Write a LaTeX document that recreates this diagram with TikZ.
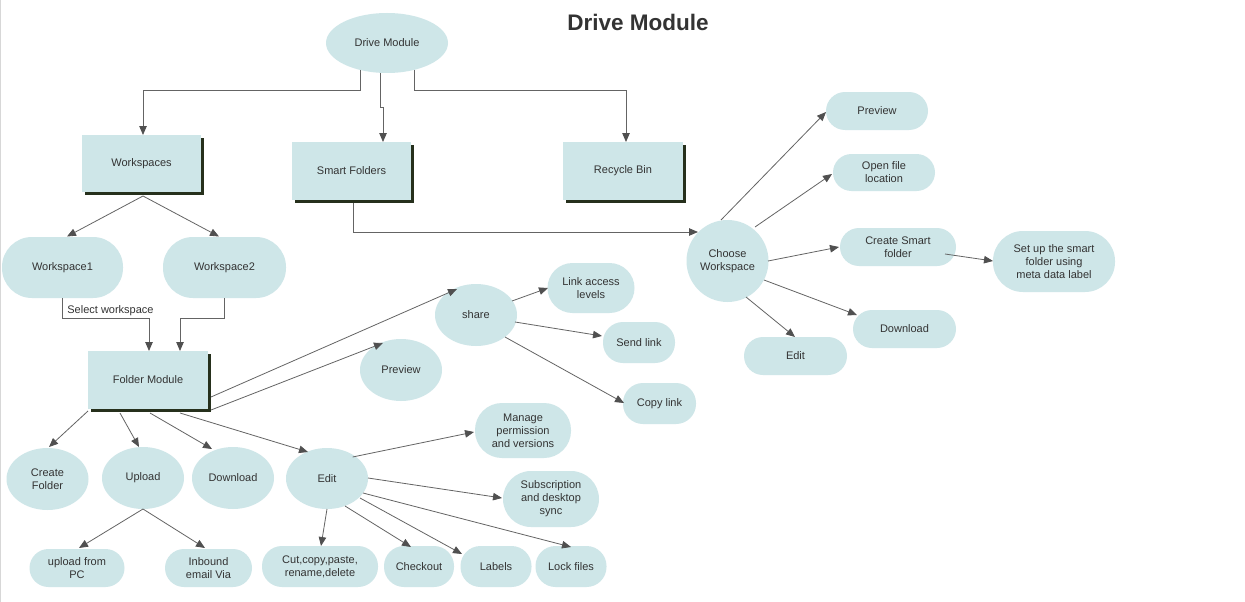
\documentclass[tikz,border=0pt]{standalone}
\usepackage{fontspec}
\setmainfont{Liberation Sans}
\usetikzlibrary{shapes.geometric,arrows.meta,shadows}
\definecolor{boxfill}{RGB}{206,230,232}
\definecolor{shadowcol}{RGB}{38,48,28}
\definecolor{txt}{RGB}{51,51,51}
\definecolor{linecol}{RGB}{100,100,100}
\definecolor{tipcol}{RGB}{80,80,80}
\definecolor{edgecol}{RGB}{215,215,215}
\begin{document}
\begin{tikzpicture}[x=1pt,y=-1pt,
  base/.style={fill=boxfill, text=txt, font=\fontsize{11}{13}\selectfont, align=center, inner sep=0pt, outer sep=0pt},
  ell/.style={base, ellipse},
  pill/.style={base, rectangle, rounded corners=#1},
  pill/.default=19pt,
  sbox/.style={base, rectangle, drop shadow={shadow xshift=3pt, shadow yshift=-3pt, fill=shadowcol, opacity=1}},
  arr/.style={draw=linecol, line width=0.8pt, -{Triangle[length=9pt,width=7.5pt,color=tipcol,fill=tipcol]}},
  lbl/.style={text=txt, font=\fontsize{11}{13}\selectfont, inner sep=0pt}
]
\useasboundingbox (0,0) rectangle (1245,602);
\fill[white] (0,0) rectangle (1245,602);
\draw[edgecol, line width=1pt] (0.5,0) -- (0.5,602);

% title
\node[text=txt, font=\fontsize{22.5}{26}\selectfont\bfseries] (title) at (638,22) {Drive Module};

% top level
\node[ell, minimum width=122pt, minimum height=60pt] (dm) at (387,43) {Drive Module};
\node[sbox, minimum width=119pt, minimum height=57pt] (ws) at (141.5,163.5) {Workspaces};
\node[sbox, minimum width=119pt, minimum height=58pt] (sf) at (351.5,171) {Smart Folders};
\node[sbox, minimum width=120pt, minimum height=58pt] (rb) at (623,171) {Recycle Bin};

% workspaces
\node[pill=30pt, minimum width=121pt, minimum height=61pt] (w1) at (62.5,267.5) {Workspace1};
\node[pill=30pt, minimum width=123pt, minimum height=61pt] (w2) at (224.5,267.5) {Workspace2};
\node[sbox, minimum width=120pt, minimum height=58pt] (fm) at (148,380) {Folder Module};
\node[lbl] (sel) at (110.5,311) {Select workspace};

% share / preview
\node[ell, minimum width=82pt, minimum height=62pt] (prev1) at (401,370) {Preview};
\node[ell, minimum width=82pt, minimum height=62pt] (share) at (476,315) {share};
\node[pill=25pt, minimum width=87pt, minimum height=50pt] (lal) at (591,288) {Link access\\levels};
\node[pill=20pt, minimum width=72pt, minimum height=41pt] (sl) at (639,342.5) {Send link};
\node[pill=20pt, minimum width=73pt, minimum height=41pt] (cl) at (659.5,403.5) {Copy link};

% choose workspace
\node[ell, minimum width=82pt, minimum height=82pt] (cw) at (727.5,261) {Choose\\Workspace};
\node[pill, minimum width=102pt, minimum height=38pt] (prev2) at (877,111) {Preview};
\node[pill=18.5pt, minimum width=102pt, minimum height=37pt] (ofl) at (884,172.5) {Open file\\location};
\node[pill, minimum width=116pt, minimum height=38pt] (csf) at (898,247) {Create Smart\\folder};
\node[pill=30pt, minimum width=122pt, minimum height=61pt] (setup) at (1054,261.5) {Set up the smart\\folder using\\meta data label};
\node[pill, minimum width=103pt, minimum height=38pt] (dl2) at (904.5,329) {Download};
\node[pill, minimum width=103pt, minimum height=38pt] (ed2) at (795.5,356) {Edit};

% folder module children
\node[ell, minimum width=82pt, minimum height=62pt] (cf) at (47.5,479) {Create\\Folder};
\node[ell, minimum width=82pt, minimum height=62pt] (up) at (143,478) {Upload};
\node[ell, minimum width=82pt, minimum height=62pt] (dl1) at (233,478) {Download};
\node[ell, minimum width=82pt, minimum height=61pt] (ed1) at (327,478.5) {Edit};
\node[pill, minimum width=95pt, minimum height=38pt] (pc) at (77,568) {upload from\\PC};
\node[pill, minimum width=87pt, minimum height=38pt] (ib) at (208.5,568) {Inbound\\email Via};
\node[pill=27pt, minimum width=96pt, minimum height=55pt] (mpv) at (523,430.5) {Manage\\permission\\and versions};
\node[pill=28pt, minimum width=96pt, minimum height=56pt] (sds) at (551,499) {Subscription\\and desktop\\sync};
\node[pill=20pt, minimum width=116pt, minimum height=41pt] (cut) at (320,566.5) {Cut,copy,paste,\\rename,delete};
\node[pill=20pt, minimum width=70pt, minimum height=41pt] (co) at (419,566.5) {Checkout};
\node[pill=20pt, minimum width=71pt, minimum height=41pt] (lab) at (496,566.5) {Labels};
\node[pill=20pt, minimum width=71pt, minimum height=41pt] (lf) at (571,566.5) {Lock files};

% ---- connectors ----
\draw[arr] ([shift={(-27,27)}]dm.center) -- ([shift={(-27,47)}]dm.center) -| ([shift={(1.5,0)}]ws.north);
\draw[arr] ([shift={(-7,30)}]dm.center) -- ([shift={(-7,64)}]dm.center) -- ([shift={(-4,64)}]dm.center) -- ([shift={(31.5,0)}]sf.north);
\draw[arr] ([shift={(27,27)}]dm.center) -- ([shift={(27,47)}]dm.center) -| ([shift={(3,0)}]rb.north);

\draw[arr] ([shift={(1.5,32.5)}]ws.center) -- ([shift={(4.5,-31)}]w1.center);
\draw[arr] ([shift={(1.5,32.5)}]ws.center) -- ([shift={(-5.5,-31)}]w2.center);

\draw[arr] ([shift={(-0.5,30.5)}]w1.center) -- ([shift={(-0.5,50.5)}]w1.center) -| ([shift={(1,0)}]fm.north);
\draw[arr] ([shift={(-0.5,30.5)}]w2.center) -- ([shift={(-0.5,50.5)}]w2.center) -| ([shift={(32,0)}]fm.north);

\draw[arr] ([shift={(63,17)}]fm.center) -- ([shift={(-19,-26)}]share.center);
\draw[arr] ([shift={(63,30)}]fm.center) -- ([shift={(-18,-27)}]prev1.center);

\draw[arr] ([shift={(36,-14)}]share.center) -- ([shift={(-43,0)}]lal.center);
\draw[arr] ([shift={(39,7)}]share.center) -- ([shift={(-37,-6.5)}]sl.center);
\draw[arr] ([shift={(29,22)}]share.center) -- ([shift={(-35.5,-0.5)}]cl.center);

\draw[arr] ([shift={(1.5,32)}]sf.center) |- ([shift={(-29.5,-29)}]cw.center);

\draw[arr] ([shift={(-6.5,-41)}]cw.center) -- ([shift={(-51,1)}]prev2.center);
\draw[arr] ([shift={(27.5,-34)}]cw.center) -- ([shift={(-52,1.5)}]ofl.center);
\draw[arr] ([shift={(40.5,0)}]cw.center) -- ([shift={(-59,0)}]csf.center);
\draw[arr] ([shift={(47,7)}]csf.center) -- ([shift={(-61,-0.5)}]setup.center);
\draw[arr] ([shift={(36.5,19)}]cw.center) -- ([shift={(-47.5,-14)}]dl2.center);
\draw[arr] ([shift={(18.5,36)}]cw.center) -- ([shift={(-0.5,-19)}]ed2.center);

\draw[arr] ([shift={(-60,31)}]fm.center) -- ([shift={(1.5,-32)}]cf.center);
\draw[arr] ([shift={(-28,33)}]fm.center) -- ([shift={(-4,-31)}]up.center);
\draw[arr] ([shift={(2,33)}]fm.center) -- ([shift={(-21,-29)}]dl1.center);
\draw[arr] ([shift={(32,33)}]fm.center) -- ([shift={(-19,-26.5)}]ed1.center);

\draw[arr] ([shift={(0,31)}]up.center) -- ([shift={(2,-20)}]pc.center);
\draw[arr] ([shift={(0,31)}]up.center) -- ([shift={(-3.5,-20)}]ib.center);

\draw[arr] ([shift={(25.6,-21.5)}]ed1.center) -- ([shift={(-49,1.5)}]mpv.center);
\draw[arr] ([shift={(41,-0.5)}]ed1.center) -- ([shift={(-49,-1)}]sds.center);
\draw[arr] ([shift={(0,30.5)}]ed1.center) -- ([shift={(1,-20.5)}]cut.center);
\draw[arr] ([shift={(18,27.5)}]ed1.center) -- ([shift={(-8,-19.5)}]co.center);
\draw[arr] ([shift={(33,19.5)}]ed1.center) -- ([shift={(-34,-12.5)}]lab.center);
\draw[arr] ([shift={(36,14.5)}]ed1.center) -- ([shift={(0,-19.5)}]lf.center);
\end{tikzpicture}
\end{document}
